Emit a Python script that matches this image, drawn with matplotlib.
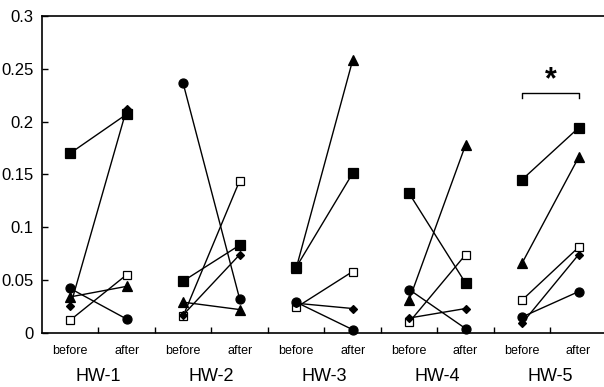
import matplotlib
matplotlib.use('Agg')
import matplotlib.pyplot as plt

# data (before, after) per homework
groups = ['HW-1', 'HW-2', 'HW-3', 'HW-4', 'HW-5']
phases = ['before', 'after']
filled_square = [(0.170, 0.207), (0.049, 0.083), (0.062, 0.151), (0.132, 0.047), (0.145, 0.194)]
open_square = [(0.012, 0.055), (0.016, 0.144), (0.024, 0.058), (0.010, 0.074), (0.031, 0.081)]
triangle = [(0.034, 0.044), (0.029, 0.022), (0.061, 0.258), (0.031, 0.178), (0.066, 0.166)]
circle = [(0.042, 0.013), (0.236, 0.032), (0.029, 0.003), (0.041, 0.004), (0.015, 0.039)]
diamond = [(0.025, 0.212), (0.017, 0.074), (0.028, 0.023), (0.014, 0.023), (0.009, 0.074)]
yticks = [0, 0.05, 0.1, 0.15, 0.2, 0.25, 0.3]
ytick_labels = ['0', '0.05', '0.1', '0.15', '0.2', '0.25', '0.3']
star_group = 4
star_level = 0.227

plt.rcParams['font.family'] = ['Liberation Sans', 'DejaVu Sans']

fig = plt.figure(figsize=(6.04, 3.87), dpi=100)
ax = fig.add_axes([0.0695, 0.140, 0.9305, 0.819])

series = [
    (filled_square, dict(marker='s', markerfacecolor='black', markersize=6.5)),
    (open_square, dict(marker='s', markerfacecolor='white', markersize=6)),
    (triangle, dict(marker='^', markerfacecolor='black', markersize=7)),
    (circle, dict(marker='o', markerfacecolor='black', markersize=6.5)),
    (diamond, dict(marker='D', markerfacecolor='black', markersize=4.5)),
]

for values, style in series:
    for g, (b, a) in enumerate(values):
        ax.plot([2 * g, 2 * g + 1], [b, a], color='black', linewidth=1.0,
                markeredgecolor='black', markeredgewidth=0.9, clip_on=False,
                **style)

ax.set_xlim(-0.5, 9.45)
ax.set_ylim(0, 0.3)
ax.set_yticks(yticks)
ax.set_yticklabels(ytick_labels, fontsize=12)
ax.set_xticks([2 * g + 0.5 for g in range(len(groups))] + [2 * g + 1.5 for g in range(len(groups) - 1)])
ax.set_xticklabels([])
ax.tick_params(axis='both', direction='in', length=4, width=1)
ax.tick_params(axis='y', pad=6)
ax.spines['right'].set_visible(False)
for s in ['left', 'top', 'bottom']:
    ax.spines[s].set_linewidth(1.2)

# before / after labels and group names
for g, name in enumerate(groups):
    for k, ph in enumerate(phases):
        ax.text(2 * g + k, -0.017, ph, ha='center', va='center', fontsize=9)
    ax.text(2 * g + 0.5, -0.0415, name, ha='center', va='center', fontsize=13)

# significance bracket
x0, x1 = 2 * star_group, 2 * star_group + 1
ax.plot([x0, x0, x1, x1], [star_level - 0.005, star_level, star_level, star_level - 0.005],
        color='black', linewidth=1.0)
ax.text((x0 + x1) / 2, star_level + 0.012, '*', ha='center', va='center',
        fontsize=22, fontweight='bold')

fig.savefig('out.png', dpi=100)
